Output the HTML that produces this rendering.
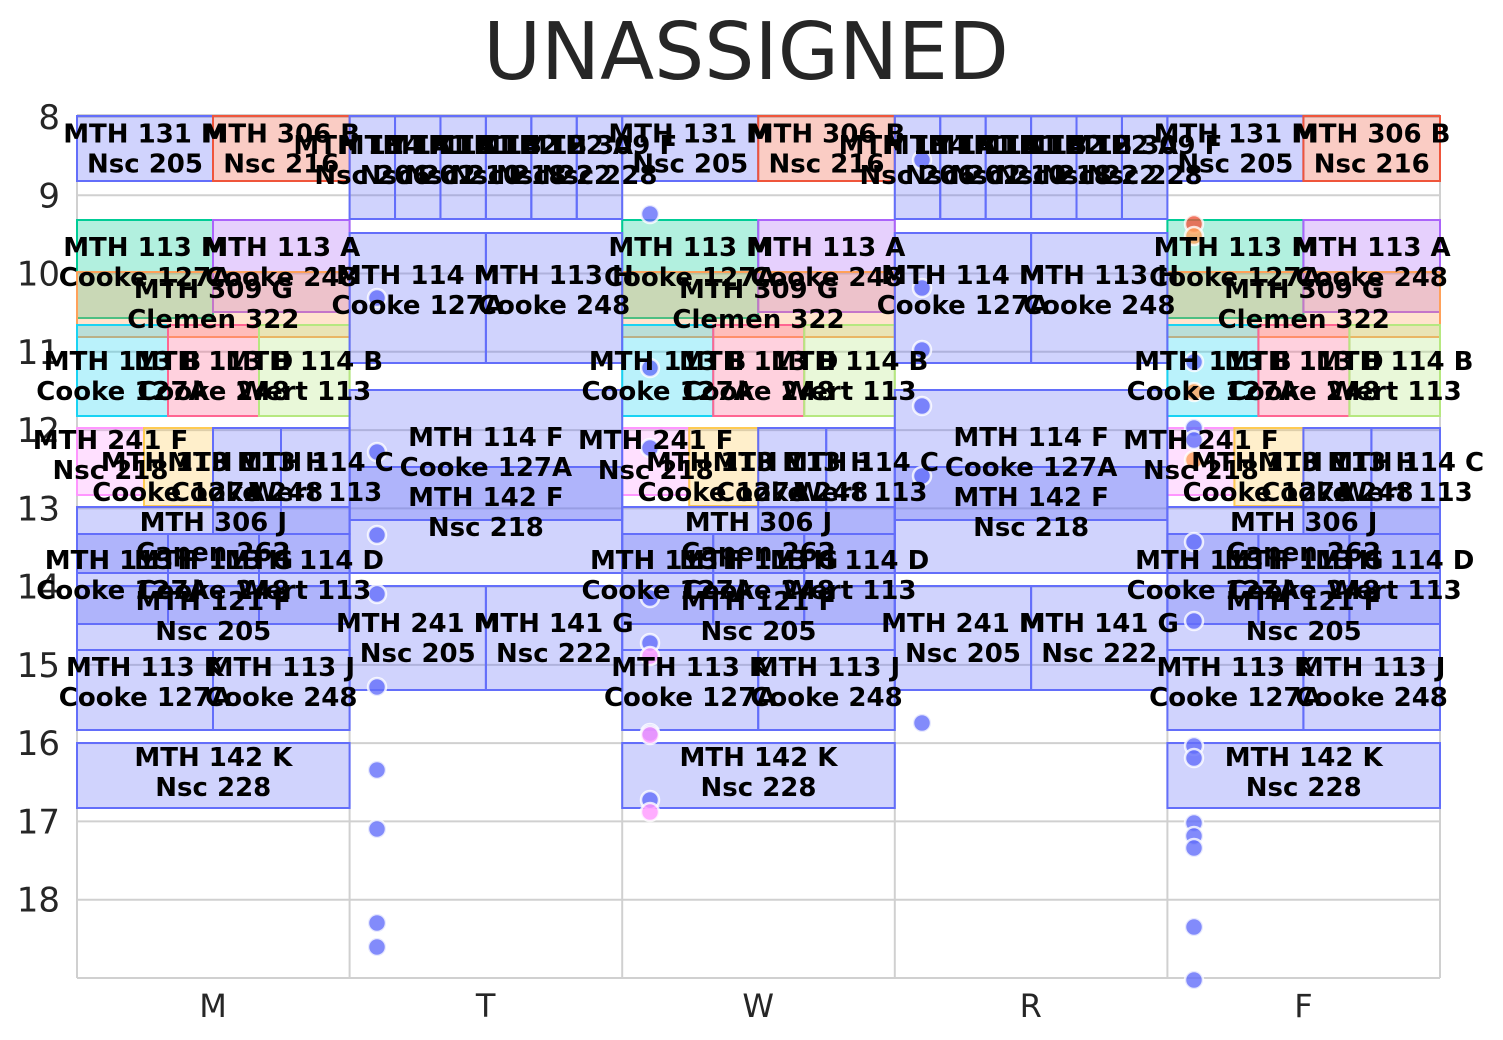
<!DOCTYPE html>
<html><head><meta charset="utf-8"><style>
html,body{margin:0;padding:0;background:#fff;}
svg{display:block;font-family:"DejaVu Sans","Liberation Sans",sans-serif;}
</style></head><body>
<svg id="s" width="1503" height="1040" xmlns="http://www.w3.org/2000/svg"></svg>
<script>
const s=document.getElementById('s');
let h='';
const Y=t=>117+(t-8)*78.27;
h+='<text x="746" y="79" font-size="79" fill="#262626" text-anchor="middle">UNASSIGNED</text>';
for(let t=8;t<=18;t++){h+=`<line x1="77" x2="1440" y1="${Y(t)}" y2="${Y(t)}" stroke="#d0d0d0" stroke-width="2"/>`;
h+=`<text x="60" y="${Y(t)+12}" font-size="34" fill="#262626" text-anchor="end">${t}</text>`;}
const X=[77,349.6,622.2,894.8,1167.4,1440];
for(let i=0;i<6;i++)h+=`<line x1="${X[i]}" x2="${X[i]}" y1="115" y2="978" stroke="#d0d0d0" stroke-width="2"/>`;
h+='<line x1="77" x2="1440" y1="978" y2="978" stroke="#d0d0d0" stroke-width="2"/>';
h+='<line x1="77" x2="1440" y1="115" y2="115" stroke="#d0d0d0" stroke-width="2"/>';
['M','T','W','R','F'].forEach((d,i)=>h+=`<text x="${X[i]+136}" y="1017" font-size="32" fill="#262626" text-anchor="middle">${d}</text>`);
const C={b:['#636efa'],r:['#ef553b'],g:['#00cc96'],p:['#ab63fa'],o:['#ffa15a'],c:['#19d3f3'],k:['#ff6692'],l:['#b6e880'],m:['#ff97ff'],y:['#fecb52']};
const rects=[],labels=[];
function R(x0,x1,y0,y1,c,l1,l2,ly){rects.push(`<rect x="${x0}" y="${y0}" width="${x1-x0}" height="${y1-y0}" fill="${C[c][0]}" fill-opacity="0.3" stroke="${C[c][0]}" stroke-width="2"/>`);
const cx=(x0+x1)/2,cy=ly||(y0+y1)/2;labels.push(`<text x="${cx}" y="${cy-6}" text-anchor="middle">${l1}</text><text x="${cx}" y="${cy+24}" text-anchor="middle">${l2}</text>`);}
[0,2,4].forEach(i=>{const o=X[i];
R(o,o+136,116,181,'b','MTH 131 M','Nsc 205');
R(o+136,o+272.6,116,181,'r','MTH 306 B','Nsc 216');
R(o,o+136,220,318,'g','MTH 113 M','Cooke 127A',262);
R(o+136,o+272.6,220,312,'p','MTH 113 A','Cooke 248',262);
R(o,o+272.6,272,337,'o','MTH 309 G','Clemen 322',304);
R(o,o+91,325,416,'c','MTH 113 B','Cooke 127A',376);
R(o+91,o+182,325,416,'k','MTH 113 D','Cooke 248',376);
R(o+182,o+272.6,325,416,'l','MTH 114 B','Wert 113',376);
R(o,o+67,428,495,'m','MTH 241 F','Nsc 218',455);
R(o+67,o+136,428,506,'y','MTH 113 E','Cooke 127A',477);
R(o+136,o+204,428,534,'b','MTH 113 H','Cooke 248',477);
R(o+204,o+272.6,428,534,'b','MTH 114 C','Wert 113',477);
R(o,o+272.6,507,573,'b','MTH 306 J','Capen 262',537);
R(o,o+91,534,624,'b','MTH 113 F','Cooke 127A',575);
R(o+91,o+182,534,624,'b','MTH 113 G','Cooke 248',575);
R(o+182,o+272.6,534,624,'b','MTH 114 D','Wert 113',575);
R(o,o+272.6,586,650,'b','MTH 121 F','Nsc 205',616);
R(o,o+136,650,730,'b','MTH 113 K','Cooke 127A',682);
R(o+136,o+272.6,650,730,'b','MTH 113 J','Cooke 248',682);
R(o,o+272.6,743,808,'b','MTH 142 K','Nsc 228',772);
});
[1,3].forEach(i=>{const o=X[i];
const n=[['MTH 114 A','Nsc 206'],['MTH 141 A','Nsc 202'],['MTH 111 B','Nsc 210'],['MTH 142 B','Nsc 218'],['MTH 122 A','Nsc 222'],['MTH 309 F','Nsc 228']];
for(let k=0;k<6;k++)R(o+k*45.43,o+(k+1)*45.43,116,219,'b',n[k][0],n[k][1],160);
R(o,o+136.3,233,363,'b','MTH 114 M','Cooke 127A',290);
R(o+136.3,o+272.6,233,363,'b','MTH 113 H','Cooke 248',290);
R(o,o+272.6,390,520,'b','MTH 114 F','Cooke 127A',452);
R(o,o+272.6,467,573,'b','MTH 142 F','Nsc 218',512);
R(o,o+136.3,586,690,'b','MTH 241 M','Nsc 205',638);
R(o+136.3,o+272.6,586,690,'b','MTH 141 G','Nsc 222',638);
});
h+=rects.join('');
const dots=[[377,[298,452,535,594,687,770,829,923,947],'b'],[650,[214,368,448,598,643,733,800],'b'],[650,[656,735,812],'m'],[922,[160,288,350,406,476,723],'b'],
[1194,[362,428,440,542,621,746,758,823,836,848,927,980],'b'],[1194,[224],'r'],[1194,[236,392,460],'o']];
dots.forEach(([x,ys,c])=>ys.forEach(y=>h+=`<circle cx="${x}" cy="${y}" r="9" fill="${C[c][0]}" fill-opacity="0.8" stroke="#fff" stroke-width="2.5" stroke-opacity="0.8"/>`));
h+='<g font-size="26" font-weight="bold" fill="#000">'+labels.join('')+'</g>';
s.innerHTML=h;
</script>
</body></html>
